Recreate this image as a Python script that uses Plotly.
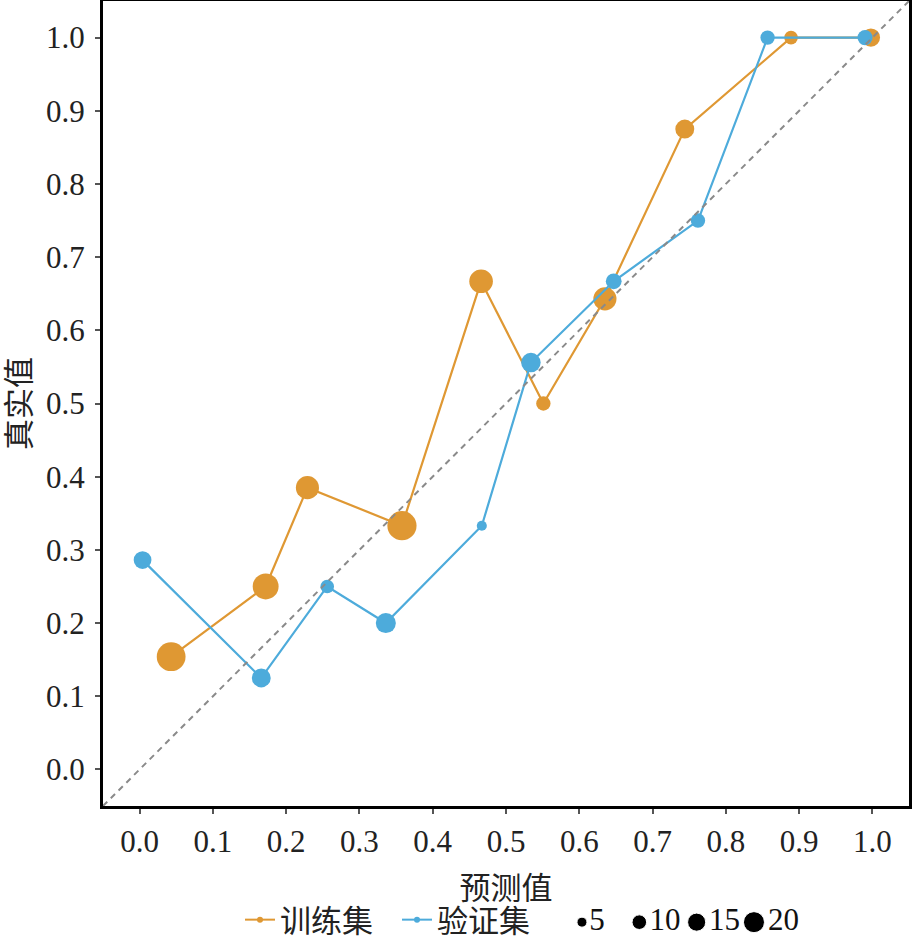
import numpy as np
import plotly.graph_objects as go

# ---- data ----
train_pred = [0.043, 0.172, 0.229, 0.358, 0.466, 0.551, 0.635, 0.744, 0.889, 0.998]
train_obs = [0.154, 0.250, 0.385, 0.333, 0.667, 0.500, 0.643, 0.875, 1.000, 1.000]
train_n = [39, 32, 26, 40, 27, 11, 26, 18, 10, 17]

val_pred = [0.004, 0.166, 0.256, 0.336, 0.467, 0.534, 0.647, 0.762, 0.857, 0.990]
val_obs = [0.286, 0.125, 0.250, 0.200, 0.333, 0.556, 0.667, 0.750, 1.000, 1.000]
val_n = [16, 18, 10, 20, 6, 19, 13, 11, 11, 12]

size_breaks = [5, 10, 15, 20]
tick_vals = [0.0, 0.1, 0.2, 0.3, 0.4, 0.5, 0.6, 0.7, 0.8, 0.9, 1.0]
series_names = ["训练集", "验证集"]
axis_titles = ["预测值", "真实值"]

# ---- styling ----
ORANGE = "#DF9833"
BLUE = "#4DABDB"
FONT = "Liberation Serif, Noto Sans CJK SC"
FS = 31
AX_RANGE = [-0.05, 1.05]


def size_px(n):
    return 4.93 * np.sqrt(np.asarray(n, dtype=float)) - 2.0


fig = go.Figure()

for name, xs, ys, ns, col in [
    (series_names[0], train_pred, train_obs, train_n, ORANGE),
    (series_names[1], val_pred, val_obs, val_n, BLUE),
]:
    fig.add_trace(go.Scatter(
        x=xs, y=ys, mode="lines+markers", showlegend=False,
        line=dict(color=col, width=2.2),
        marker=dict(color=col, size=size_px(ns), opacity=1, line=dict(width=0)),
        hoverinfo="skip",
    ))

# diagonal reference line y = x across the axis range
fig.add_trace(go.Scatter(
    x=AX_RANGE, y=AX_RANGE, mode="lines", showlegend=False,
    line=dict(color="#8a8a8a", width=2, dash="6px,5px"), hoverinfo="skip",
))

# legend-only entries for the colour legend
for name, col in [(series_names[0], ORANGE), (series_names[1], BLUE)]:
    fig.add_trace(go.Scatter(
        x=[None], y=[None], mode="lines+markers", name=name,
        line=dict(color=col, width=2), marker=dict(color=col, size=6),
    ))

# size legend drawn on an auxiliary axis row
fig.add_trace(go.Scatter(
    x=size_breaks, y=[0] * len(size_breaks), mode="markers+text",
    text=[str(b) for b in size_breaks], textposition="middle right",
    textfont=dict(family=FONT, size=FS, color="#111"),
    marker=dict(color="black", size=size_px(size_breaks) + 1.0, opacity=1),
    xaxis="x2", yaxis="y2", showlegend=False, hoverinfo="skip",
))

W, H = 912, 940
ML, MR, MT, MB = 103, 3, 1, 0
plot_h = H - MT - MB
main_bottom = (H - 806) / plot_h

axis_common = dict(
    range=AX_RANGE, tickvals=tick_vals, tickformat=".1f",
    showline=True, mirror=True, linecolor="black", linewidth=3,
    ticks="outside", ticklen=5, tickwidth=1.5, tickcolor="#555",
    showgrid=False, zeroline=False, automargin=False,
    tickfont=dict(family=FONT, size=FS, color="#222"),
)

fig.update_layout(
    width=W, height=H,
    margin=dict(l=ML, r=MR, t=MT, b=MB, autoexpand=False),
    paper_bgcolor="white", plot_bgcolor="white",
    font=dict(family=FONT, size=FS, color="#222"),
    xaxis=dict(**axis_common, ticklabelstandoff=1,
               title=dict(text=axis_titles[0], standoff=20,
                          font=dict(family=FONT, size=FS, color="#222")),
               anchor="y"),
    yaxis=dict(**axis_common, domain=[main_bottom, 1],
               ticklabelstandoff=4,
               title=dict(text=axis_titles[1], standoff=7,
                          font=dict(family=FONT, size=FS, color="#222")),
               anchor="x"),
    xaxis2=dict(domain=[0, 1], range=[-36.77, 33.52], visible=False,
                anchor="y2", fixedrange=True),
    yaxis2=dict(domain=[0, 0.038], range=[-1, 1], visible=False,
                anchor="x2", fixedrange=True),
    legend=dict(orientation="h", x=0.17, xanchor="left",
                y=(H - 920) / plot_h, yanchor="middle",
                font=dict(family=FONT, size=FS, color="#222"),
                itemwidth=30, entrywidth=112, entrywidthmode="pixels",
                bgcolor="rgba(0,0,0,0)", tracegroupgap=0),
)

fig.write_html(
    "out.html",
    config={"displayModeBar": False},
    post_script="document.body.style.margin='0';document.body.style.overflow='hidden';",
)
